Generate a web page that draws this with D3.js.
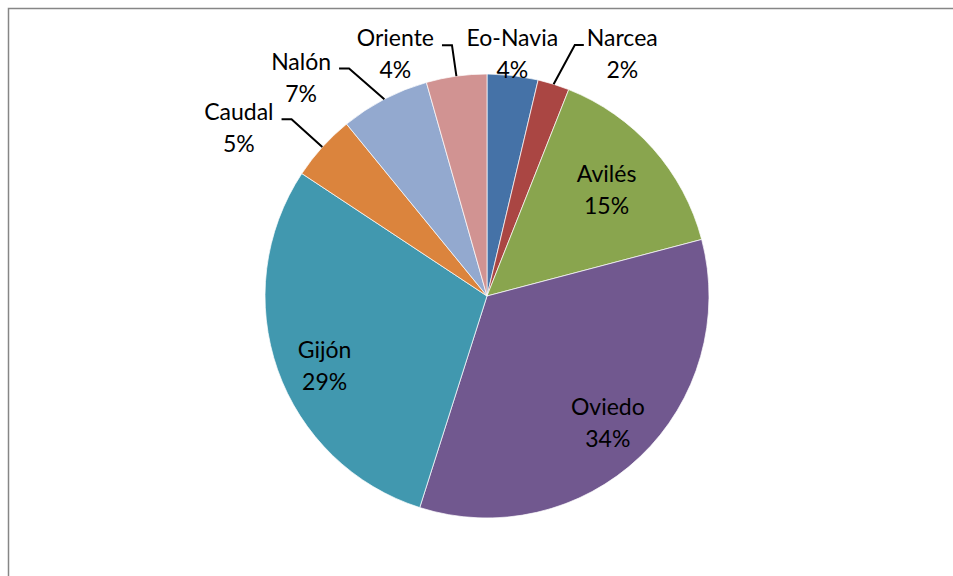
<!DOCTYPE html>
<html>
<head>
<meta charset="utf-8">
<script src="https://cdn.jsdelivr.net/npm/d3@7"></script>
<style>
  body { margin: 0; background: #fff; }
  text { font-family: Lato, "Open Sans", sans-serif; font-size: 23px; fill: #000; }
</style>
</head>
<body>
<div id="chart"></div>
<script>
// data (share in %, clockwise from 12 o'clock)
var comarcas = ["Eo-Navia", "Narcea", "Avilés", "Oviedo", "Gijón", "Caudal", "Nalón", "Oriente"];
var shares   = [3.7, 2.3, 14.9, 34.0, 29.4, 4.8, 6.5, 4.4];
var colors   = ["#4572A7", "#AA4643", "#89A54E", "#71588F", "#4198AF", "#DB843D", "#93A9CF", "#D19392"];

// label placement: inside / outside, leader line side, small nudges
var labelLayout = {
	"Eo-Navia": { mode: "out", leader: null,    nudge: [-3, 0] },
	"Narcea":   { mode: "out", leader: "left",  nudge: [62, -9] },
	"Avilés":   { mode: "in",  k: 0.72, nudge: [0, 0] },
	"Oviedo":   { mode: "in",  k: 0.79, nudge: [0, 0] },
	"Gijón":    { mode: "in",  k: 0.79, nudge: [3, 12] },
	"Caudal":   { mode: "out", leader: "right", nudge: [-67, -4] },
	"Nalón":    { mode: "out", leader: "right", nudge: [-73, -2] },
	"Oriente":  { mode: "out", leader: "right", nudge: [-58, 0] }
};

var width = 953,
	height = 576;
var cx = 487,
	cy = 296,
	radius = 222;

var svg = d3.select("#chart")
	.append("svg")
	.attr("width", width)
	.attr("height", height);

// chart frame (runs off the right and bottom edges)
svg.append("rect")
	.attr("x", 8.5)
	.attr("y", 8.5)
	.attr("width", 1000)
	.attr("height", 700)
	.attr("fill", "none")
	.attr("stroke", "#868686")
	.attr("stroke-width", 1.5);

var data = comarcas.map(function(d, i) { return { name: d, value: shares[i], color: colors[i] }; });

var pie = d3.pie()
	.sort(null)
	.value(function(d) { return d.value; });

var arc = d3.arc()
	.innerRadius(0)
	.outerRadius(radius);

var g = svg.append("g")
	.attr("transform", "translate(" + cx + "," + cy + ")");

var arcs = pie(data);

// slices
g.selectAll("path")
	.data(arcs)
	.enter().append("path")
	.attr("d", arc)
	.attr("fill", function(d) { return d.data.color; })
	.attr("stroke", "rgba(255,255,255,0.7)")
	.attr("stroke-width", 1);

function polar(angle, r) {
	return [Math.sin(angle) * r, -Math.cos(angle) * r];
}

// labels
var lineGap = 16;
arcs.forEach(function(d) {
	var lay = labelLayout[d.data.name];
	var mid = (d.startAngle + d.endAngle) / 2;
	var p = lay.mode == "in" ? polar(mid, radius * lay.k) : polar(mid, radius * 1.1);
	p = [p[0] + lay.nudge[0], p[1] + lay.nudge[1]];

	var name = g.append("text")
		.attr("x", p[0])
		.attr("y", p[1] - lineGap)
		.attr("dy", "0.35em")
		.style("text-anchor", "middle")
		.text(d.data.name);
	g.append("text")
		.attr("x", p[0])
		.attr("y", p[1] + lineGap)
		.attr("dy", "0.35em")
		.style("text-anchor", "middle")
		.text(Math.round(d.data.value) + "%");

	if (lay.leader) {
		var w = name.node().getComputedTextLength();
		var ly = p[1] - lineGap + 7;
		var start = polar(mid, radius);
		var endX, kneeX;
		if (lay.leader == "right") {
			endX = p[0] + w / 2 + 8;
			kneeX = endX + 10;
		} else {
			endX = p[0] - w / 2 - 3;
			kneeX = endX - 9;
		}
		g.append("path")
			.attr("d", d3.line()([start, [kneeX, ly], [endX, ly]]))
			.attr("fill", "none")
			.attr("stroke", "#000")
			.attr("stroke-width", 2);
	}
});
</script>
</body>
</html>
